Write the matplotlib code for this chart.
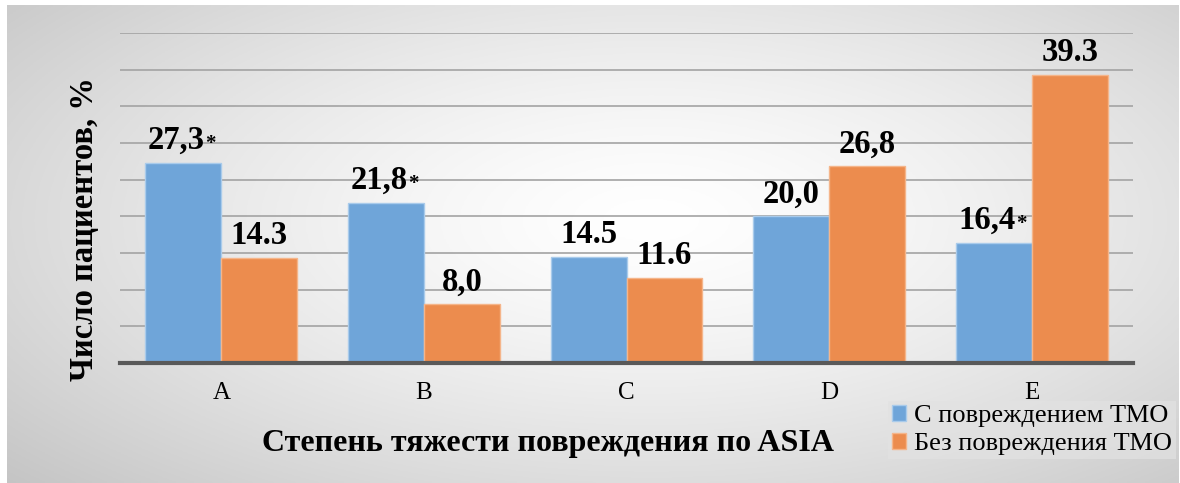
import numpy as np
import matplotlib
matplotlib.use("Agg")
import matplotlib.pyplot as plt
from matplotlib.patches import Patch

plt.rcParams['font.family'] = ['Liberation Serif', 'DejaVu Serif']
SERIF = ['Liberation Serif', 'DejaVu Serif']

categories = ['A', 'B', 'C', 'D', 'E']
with_tmo = [27.3, 21.8, 14.5, 20.0, 16.4]
without_tmo = [14.3, 8.0, 11.6, 26.8, 39.3]
with_labels = ['27,3', '21,8', '14.5', '20,0', '16,4']
with_star = [True, True, False, False, True]
without_labels = ['14.3', '8,0', '11.6', '26,8', '39.3']
series_names = ['С повреждением ТМО', 'Без повреждения ТМО']
xlabel = 'Степень тяжести повреждения по ASIA'
ylabel = 'Число пациентов, %'

W, H = 1180, 483
fig = plt.figure(figsize=(W / 100, H / 100), dpi=100, facecolor='white')

# background radial gradient panel
bg = fig.add_axes([7 / W, 0, (1179 - 7) / W, 1 - 5 / H])
bg.set_axis_off()
nx, ny = 400, 200
xx, yy = np.meshgrid(np.linspace(0, 1, nx), np.linspace(0, 1, ny))
cx, cy = 0.55, 0.45
r = np.sqrt(((xx - cx) / 0.55) ** 2 + ((yy - cy) / 0.6) ** 2) / np.sqrt(2)
r = np.clip(r, 0, 1)
g = (255 - 62 * r ** 1.4) / 255
bg.imshow(np.dstack([g, g, g]), extent=[0, 1, 0, 1], aspect='auto', origin='upper')
bg.set_xlim(0, 1)
bg.set_ylim(0, 1)

ax = fig.add_axes([120 / W, 1 - 363 / H, (1133 - 120) / W, (363 - 33) / H])
ax.patch.set_alpha(0)
x = np.arange(len(categories))
w = 0.375
blue = '#6fa5d9'
orange = '#ec8c4e'
ax.bar(x - w / 2, with_tmo, w, color=blue, edgecolor='#a9cbeb', linewidth=1, zorder=3)
ax.bar(x + w / 2, without_tmo, w, color=orange, edgecolor='#f5b58a', linewidth=1, zorder=3)
ax.set_xlim(-0.5, len(categories) - 0.5)
ax.set_ylim(0, 45)
ax.set_yticks(np.arange(5, 46, 5))
ax.yaxis.grid(True, color='#a3a3a3', linewidth=1.2, zorder=1)
ax.tick_params(axis='y', length=0, labelleft=False)
ax.tick_params(axis='x', length=0, labelsize=18, pad=14)
ax.set_xticks(x)
ax.set_xticklabels(categories, family=SERIF)
for s in ['top', 'right', 'left']:
    ax.spines[s].set_visible(False)
ax.spines['bottom'].set_color('#595959')
ax.spines['bottom'].set_linewidth(3)
ax.spines['bottom'].set_zorder(4)

lab_fs = 23.5
for i in range(len(categories)):
    dx = -5 if with_star[i] else 0
    t = ax.annotate(with_labels[i], (x[i] - w / 2, with_tmo[i]), xytext=(dx, 10),
                    textcoords='offset points', ha='center', va='baseline',
                    fontsize=lab_fs, fontweight='bold', family=SERIF)
    if with_star[i]:
        ax.annotate('*', xy=(1, 0.38), xycoords=t, xytext=(0.5, 0), textcoords='offset points',
                    ha='left', va='center', fontsize=15, fontweight='bold', family=SERIF)
    ax.annotate(without_labels[i], (x[i] + w / 2, without_tmo[i]), xytext=(0, 10),
                textcoords='offset points', ha='center', va='baseline',
                fontsize=lab_fs, fontweight='bold', family=SERIF)

fig.text(548 / W, 1 - 444 / H, xlabel, ha='center', va='center', fontsize=23, fontweight='bold',
         family=SERIF)
fig.text(85 / W, 1 - 229 / H, ylabel, ha='center', va='center', rotation=90,
         fontsize=23.5, fontweight='bold', family=SERIF)

handles = [Patch(facecolor=blue, edgecolor='#a9cbeb'), Patch(facecolor=orange, edgecolor='#f5b58a')]
leg = fig.legend(handles, series_names, loc='lower right', bbox_to_anchor=(1176 / W, 1 - 459 / H),
                 prop={'family': SERIF, 'size': 19}, frameon=True, handlelength=0.55, handleheight=0.55,
                 handletextpad=0.3, labelspacing=0.22, borderpad=0.15, borderaxespad=0)
leg.get_frame().set_facecolor('#e2e2e2')
leg.get_frame().set_alpha(0.7)
leg.get_frame().set_edgecolor('none')
leg.get_frame().set_boxstyle('square', pad=0)

fig.savefig('out.png', dpi=100, facecolor='white')
